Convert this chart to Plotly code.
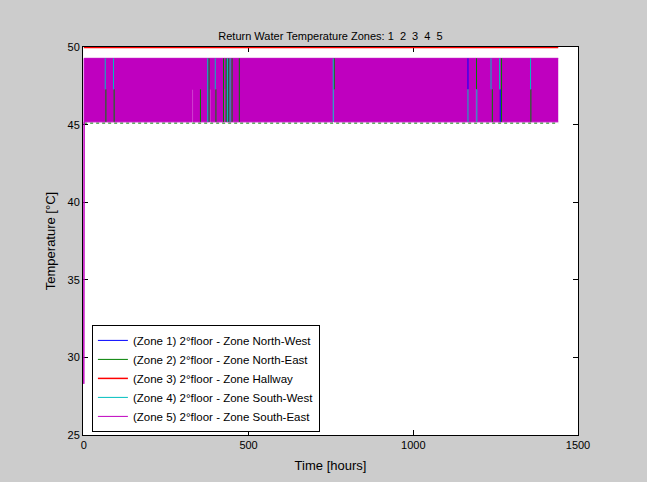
import plotly.graph_objects as go

# ---------------- data ----------------
hours_end = 1440
x_ticks = [0, 500, 1000, 1500]
y_ticks = [25, 30, 35, 40, 45, 50]

zone_names = [
    "(Zone 1) 2°floor - Zone North-West",
    "(Zone 2) 2°floor - Zone North-East",
    "(Zone 3) 2°floor - Zone Hallway",
    "(Zone 4) 2°floor - Zone South-West",
    "(Zone 5) 2°floor - Zone South-East",
]
zone_colors = ["#0000FF", "#008000", "#FF0000", "#00BFBF", "#BF00BF"]

# Zone 5 oscillates continuously between these two levels (appears as a band)
zone5_start = 28.3
zone5_low = 45.2
zone5_high = 49.3
zone5_mid = 47.3
# short periods where zone 5 stays high (lower half of the band is empty)
zone5_gap_hours = [330, 384, 428, 758, 1191]

# Zone 3 (hallway) constant value
zone3_value = 50.0

# Zone 2 lower bound visible just under the band
zone2_floor = 45.12

# visible spikes of other zones: (hour, low temp, high temp)
zone1_spikes = [(1166, 47.3, 49.3), (1264, 45.2, 47.3)]
zone2_spikes = [(67, 45.2, 47.3), (92, 45.2, 47.3), (354, 45.2, 47.3), (380, 45.2, 49.3),
                (401, 45.2, 47.3), (424, 45.2, 49.3), (432, 45.2, 49.3), (440, 45.2, 49.3),
                (450, 45.2, 49.3), (472, 45.2, 49.3), (760, 47.3, 49.3), (1192, 47.3, 49.3),
                (1240, 45.2, 47.3), (1268, 45.2, 49.3), (1357, 45.2, 47.3)]
zone4_spikes = [(65, 47.3, 49.3), (90, 47.3, 49.3), (376, 45.2, 49.3), (399, 47.3, 49.3),
                (436, 45.2, 49.3), (444, 45.2, 49.3), (757, 45.2, 49.3), (1166, 45.2, 47.3),
                (1193, 45.2, 47.3), (1236, 47.3, 49.3), (1262, 47.3, 49.3), (1356, 47.3, 49.3)]


# ---------------- build traces ----------------
def spike_xy(spikes):
    xs, ys = [], []
    for t, lo, hi in spikes:
        xs += [t, t, None]
        ys += [lo, hi, None]
    return xs, ys


# lower envelope of zone 5 (with gaps)
low_x = [0, 1]
low_y = [zone5_start, zone5_low]
for g in zone5_gap_hours:
    low_x += [g - 1.5, g - 1.5, g + 1.5, g + 1.5]
    low_y += [zone5_low, zone5_mid, zone5_mid, zone5_low]
low_x += [hours_end]
low_y += [zone5_low]

high_x = [0, 1, hours_end]
high_y = [zone5_start, zone5_high, zone5_high]

fig = go.Figure()

# zone 2 floor line underneath the band
fig.add_trace(go.Scatter(x=[1, hours_end], y=[zone2_floor, zone2_floor], mode="lines",
                         line=dict(color=zone_colors[1], width=1, dash="dot"),
                         showlegend=False, hoverinfo="skip"))

# zone 5 band (lower envelope carries the legend entry)
fig.add_trace(go.Scatter(x=low_x, y=low_y, mode="lines",
                         line=dict(color=zone_colors[4], width=1),
                         name=zone_names[4], legendrank=5))
fig.add_trace(go.Scatter(x=high_x, y=high_y, mode="lines", fill="tonexty",
                         fillcolor=zone_colors[4],
                         line=dict(color=zone_colors[4], width=1),
                         showlegend=False, hoverinfo="skip"))

# spikes of zones 1, 2, 4
for spikes, idx in [(zone1_spikes, 0), (zone2_spikes, 1), (zone4_spikes, 3)]:
    sx, sy = spike_xy(spikes)
    fig.add_trace(go.Scatter(x=sx, y=sy, mode="lines",
                             line=dict(color=zone_colors[idx], width=1),
                             name=zone_names[idx], legendrank=idx + 1))

# zone 3 constant
fig.add_trace(go.Scatter(x=[0, hours_end], y=[zone3_value, zone3_value], mode="lines",
                         line=dict(color=zone_colors[2], width=1.5),
                         name=zone_names[2], legendrank=3))

font_family = "Liberation Sans, Arial, sans-serif"

fig.update_layout(
    width=647, height=482,
    paper_bgcolor="#CCCCCC",
    plot_bgcolor="#FFFFFF",
    margin=dict(l=83, r=69, t=47, b=47, autoexpand=False),
    font=dict(family=font_family, size=11, color="#000000"),
    title=dict(text="Return Water Temperature Zones: 1\u00a0 2\u00a0 3\u00a0 4\u00a0 5",
               x=0.5, xanchor="center", xref="paper", y=1, yref="paper",
               yanchor="bottom", pad=dict(b=7), automargin=False,
               font=dict(family=font_family, size=11, color="#000000")),
    showlegend=True,
    legend=dict(x=0.018, y=0.008, xanchor="left", yanchor="bottom",
                bgcolor="#FFFFFF", bordercolor="#000000", borderwidth=1,
                traceorder="normal",
                font=dict(family=font_family, size=11.5, color="#000000"),
                tracegroupgap=0, itemwidth=30),
)

fig.update_xaxes(range=[-2.5, 1500], tickvals=x_ticks, ticktext=[str(v) for v in x_ticks],
                 ticks="inside", ticklen=5, tickcolor="#000000",
                 showline=True, linecolor="#000000", linewidth=1, mirror="ticks",
                 showgrid=False, zeroline=False, layer="below traces", automargin=False,
                 title=dict(text="Time [hours]", standoff=10),
                 tickfont=dict(size=11))
fig.update_yaxes(range=[25, 50.03], tickvals=y_ticks, ticktext=[str(v) for v in y_ticks],
                 ticks="inside", ticklen=5, tickcolor="#000000",
                 showline=True, linecolor="#000000", linewidth=1, mirror="ticks",
                 showgrid=False, zeroline=False, layer="below traces", automargin=False,
                 title=dict(text="Temperature [°C]", standoff=8),
                 tickfont=dict(size=11))

fig.write_html("out.html", config={"displayModeBar": False},
               post_script="document.body.style.margin='0';")
